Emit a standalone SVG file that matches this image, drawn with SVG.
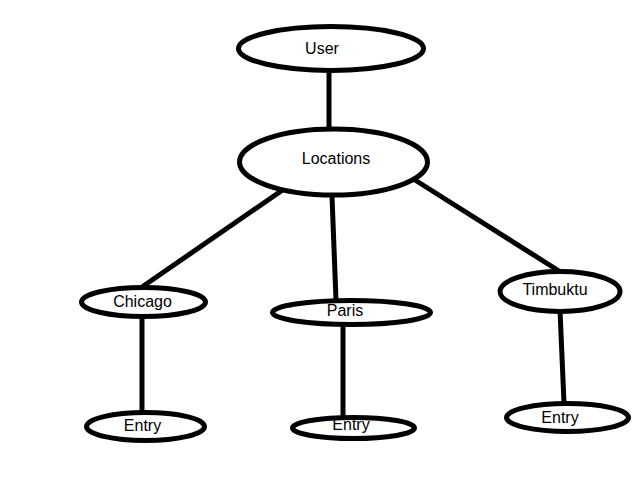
<svg xmlns="http://www.w3.org/2000/svg" width="640" height="480" viewBox="0 0 640 480">
<style>
.n ellipse{fill:#fff;stroke:#000;stroke-width:5}
.n text{font-family:"Liberation Sans",Arial,sans-serif;font-size:16px;fill:#000;text-anchor:middle}
#edges line{stroke:#000;stroke-width:5}
</style>
<rect width="640" height="480" fill="#fff"/>
<g id="edges">
<line x1="329" y1="70" x2="329" y2="130"/>
<line x1="284" y1="189" x2="142" y2="287"/>
<line x1="332" y1="196" x2="336" y2="300"/>
<line x1="415" y1="180" x2="559" y2="271"/>
<line x1="142" y1="316" x2="142" y2="412"/>
<line x1="343" y1="325" x2="343" y2="417"/>
<line x1="560" y1="310" x2="564" y2="403"/>
</g>
<g id="user" class="n"><ellipse cx="331" cy="48.5" rx="92.5" ry="22"/><text x="322" y="54">User</text></g>
<g id="locations" class="n"><ellipse cx="333.5" cy="162" rx="94" ry="33"/><text x="336" y="164">Locations</text></g>
<g id="chicago" class="n"><ellipse cx="143.5" cy="302" rx="62" ry="14.5"/><text x="142.5" y="307">Chicago</text></g>
<g id="paris" class="n"><ellipse cx="351.5" cy="312.5" rx="79" ry="12"/><text x="345" y="316">Paris</text></g>
<g id="timbuktu" class="n"><ellipse cx="560" cy="291.5" rx="60" ry="20"/><text x="555" y="295">Timbuktu</text></g>
<g id="entry1" class="n"><ellipse cx="145.5" cy="426.5" rx="59" ry="14"/><text x="142.5" y="431">Entry</text></g>
<g id="entry2" class="n"><ellipse cx="353.5" cy="428" rx="61" ry="10.5"/><text x="351" y="429.5">Entry</text></g>
<g id="entry3" class="n"><ellipse cx="567.5" cy="417.5" rx="61" ry="14"/><text x="560" y="423">Entry</text></g>
</svg>
